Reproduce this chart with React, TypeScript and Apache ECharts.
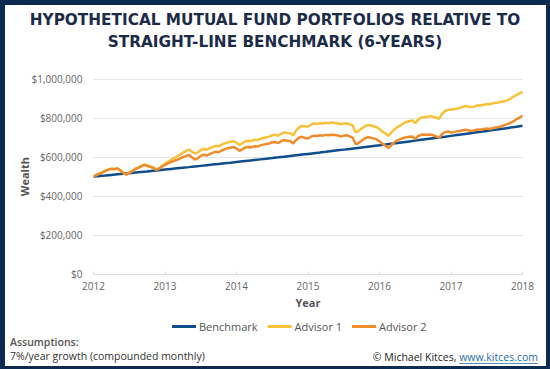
import React, { useEffect, useRef } from "react";
import * as echarts from "echarts";

// ---- data ----
const yearTicks = ["2012", "2013", "2014", "2015", "2016", "2017", "2018"];
const seriesNames = ["Benchmark", "Advisor 1", "Advisor 2"];

// Benchmark: monthly values, Jan 2012 .. Jan 2018 (7%/yr compounded monthly)
const benchmark = [
  500000, 502917, 505850, 508801, 511769, 514754, 517757, 520777, 523815, 526871, 529944, 533035,
  536145, 539272, 542418, 545582, 548765, 551966, 555186, 558424, 561682, 564958, 568254, 571569,
  574903, 578257, 581630, 585023, 588436, 591868, 595321, 598794, 602287, 605800, 609334, 612888,
  616463, 620059, 623676, 627314, 630974, 634654, 638357, 642080, 645826, 649593, 653382, 657194,
  661027, 664883, 668762, 672663, 676587, 680533, 684503, 688496, 692512, 696552, 700615, 704702,
  708813, 712948, 717107, 721290, 725498, 729730, 733986, 738268, 742575, 746906, 751263, 755646,
  760054,
];

// Advisor portfolios: half-monthly values in $ thousands, Jan 2012 .. Jan 2018
const advisor1 = [
  500, 509, 516, 523, 531, 537, 541, 539, 543, 533, 519, 511, 521, 529, 540, 547, 554, 562, 558, 552, 548, 537, 543, 555,
  565, 576, 586, 594, 603, 612, 623, 631, 639, 629, 618, 624, 636, 642, 638, 646, 652, 658, 655, 664, 670, 675, 678, 682,
  674, 662, 671, 681, 684, 682, 689, 687, 694, 698, 702, 705, 712, 714, 709, 720, 727, 724, 722, 712, 736, 752, 760, 758,
  755, 766, 772, 770, 774, 772, 776, 774, 777, 775, 773, 768, 772, 774, 768, 762, 726, 734, 746, 757, 764, 762, 758, 754,
  743, 731, 721, 709, 726, 742, 754, 762, 772, 780, 784, 788, 774, 792, 802, 806, 806, 810, 807, 802, 796, 822, 836, 842,
  843, 846, 848, 852, 858, 862, 858, 856, 860, 866, 864, 868, 872, 870, 876, 878, 880, 884, 886, 892, 900, 910, 918, 926,
  934,
];
const advisor2 = [
  500, 508, 515, 522, 530, 536, 540, 538, 542, 532, 518, 510, 520, 528, 538, 545, 552, 560, 556, 550, 546, 535, 540, 552,
  560, 568, 575, 580, 586, 592, 600, 605, 611, 600, 588, 594, 606, 612, 608, 616, 622, 628, 625, 634, 640, 645, 648, 652,
  644, 632, 640, 650, 652, 650, 656, 654, 660, 664, 667, 670, 676, 678, 672, 682, 688, 684, 682, 670, 688, 700, 704, 698,
  695, 705, 710, 708, 712, 710, 714, 712, 715, 713, 711, 706, 710, 712, 706, 700, 666, 672, 684, 695, 702, 700, 696, 692,
  680, 668, 658, 646, 662, 676, 686, 692, 698, 702, 704, 706, 694, 708, 714, 716, 714, 716, 712, 706, 700, 718, 728, 732,
  726, 728, 732, 734, 738, 740, 736, 734, 738, 742, 740, 744, 746, 744, 748, 752, 754, 758, 764, 770, 776, 784, 794, 802,
  812,
];

const yTicks = [0, 200000, 400000, 600000, 800000, 1000000];

const titleLines = [
  "HYPOTHETICAL MUTUAL FUND PORTFOLIOS RELATIVE TO",
  "STRAIGHT-LINE BENCHMARK (6-YEARS)",
];
const noteTitle = "Assumptions:";
const noteText = "7%/year growth (compounded monthly)";
const creditText = "© Michael Kitces, ";
const creditLink = "www.kitces.com";

const COLORS = ["#0f4d8c", "#f8c23a", "#ef8d2d"];
const FONT = '"Open Sans", sans-serif';
const TITLE_FONT = '"DejaVu Sans", sans-serif';

function measure(text: string, font: string): number {
  const c = document.createElement("canvas").getContext("2d");
  if (!c) return text.length * 5.5;
  c.font = font;
  return c.measureText(text).width;
}

export default function App() {
  const ref = useRef<HTMLDivElement>(null);

  useEffect(() => {
    if (!ref.current) return;
    const chart = echarts.init(ref.current, undefined, { renderer: "svg" });
    const startYear = Number(yearTicks[0]);
    const benchData = benchmark.map((v, i) => [startYear + i / 12, v]);
    const a1Data = advisor1.map((v, i) => [startYear + i / 24, v * 1000]);
    const a2Data = advisor2.map((v, i) => [startYear + i / 24, v * 1000]);

    const creditFont = `10.5px ${FONT}`;
    const linkW = measure(creditLink, creditFont);
    const rightEdge = 538;

    chart.setOption({
      animation: false,
      backgroundColor: "#ffffff",
      grid: {
        left: 93.5,
        right: 27.5,
        top: 79,
        bottom: 94.7,
        containLabel: false,
      },
      legend: {
        data: seriesNames,
        left: 167,
        top: 316,
        icon: "rect",
        itemWidth: 24,
        itemHeight: 3,
        itemGap: 10,
        textStyle: { fontFamily: FONT, fontSize: 11, color: "#555555", padding: [0, 0, 0, -2] },
      },
      xAxis: {
        type: "value",
        min: startYear,
        max: Number(yearTicks[yearTicks.length - 1]),
        interval: 1,
        name: "Year",
        nameLocation: "middle",
        nameGap: 23,
        nameMoveOverlap: false,
        nameTextStyle: { fontFamily: FONT, fontSize: 11, fontWeight: 700, color: "#555555" },
        axisLine: { lineStyle: { color: "#dddddd", width: 1 } },
        axisTick: { show: true, inside: true, length: 3, lineStyle: { color: "#dddddd" } },
        axisLabel: {
          fontFamily: FONT,
          fontSize: 10,
          color: "#666666",
          margin: 7,
          formatter: (v: number) => yearTicks[Math.round(v - startYear)] ?? "",
        },
        splitLine: { show: false },
      },
      yAxis: {
        type: "value",
        min: yTicks[0],
        max: yTicks[yTicks.length - 1],
        interval: yTicks[1] - yTicks[0],
        name: "Wealth",
        nameLocation: "middle",
        nameGap: 64,
        nameMoveOverlap: false,
        nameTextStyle: { fontFamily: FONT, fontSize: 11, fontWeight: 700, color: "#555555" },
        axisLine: { show: false },
        axisTick: { show: false },
        axisLabel: {
          fontFamily: FONT,
          fontSize: 10,
          color: "#666666",
          margin: 11,
          formatter: (v: number) => "$" + v.toLocaleString("en-US"),
        },
        splitLine: { lineStyle: { color: "#e6e6e6", width: 1 } },
      },
      series: [
        {
          name: seriesNames[0],
          type: "line",
          data: benchData,
          showSymbol: false,
          symbol: "none",
          lineStyle: { color: COLORS[0], width: 2.5 },
          itemStyle: { color: COLORS[0] },
        },
        {
          name: seriesNames[1],
          type: "line",
          data: a1Data,
          showSymbol: false,
          symbol: "none",
          lineStyle: { color: COLORS[1], width: 2.5 },
          itemStyle: { color: COLORS[1] },
        },
        {
          name: seriesNames[2],
          type: "line",
          data: a2Data,
          showSymbol: false,
          symbol: "none",
          lineStyle: { color: COLORS[2], width: 2.5 },
          itemStyle: { color: COLORS[2] },
        },
      ],
      graphic: [
        {
          type: "text",
          x: 275,
          y: 20,
          style: {
            text: titleLines[0],
            font: `bold 15.3px ${TITLE_FONT}`,
            fill: "#1c2c48",
            align: "center",
            verticalAlign: "middle",
          },
        },
        {
          type: "text",
          x: 275,
          y: 42,
          style: {
            text: titleLines[1],
            font: `bold 15.3px ${TITLE_FONT}`,
            fill: "#1c2c48",
            align: "center",
            verticalAlign: "middle",
          },
        },
        {
          type: "text",
          left: 10,
          top: 336,
          style: { text: noteTitle, font: `600 10.5px ${FONT}`, fill: "#555555" },
        },
        {
          type: "text",
          left: 10,
          top: 350,
          style: { text: noteText, font: `10.5px ${FONT}`, fill: "#333333" },
        },
        {
          type: "text",
          x: rightEdge - linkW,
          y: 357,
          style: {
            text: creditText,
            font: creditFont,
            fill: "#222222",
            align: "right",
            verticalAlign: "middle",
          },
        },
        {
          type: "text",
          x: rightEdge,
          y: 357,
          style: {
            text: creditLink,
            font: creditFont,
            fill: "#2d6db5",
            align: "right",
            verticalAlign: "middle",
          },
        },
        {
          type: "rect",
          shape: { x: rightEdge - linkW, y: 363, width: linkW, height: 0.8 },
          style: { fill: "#2d6db5" },
        },
      ],
    });
    return () => chart.dispose();
  }, []);

  return (
    <div style={{ position: "fixed", left: 0, top: 0, width: 550, height: 369, background: "#fff" }}>
      <div ref={ref} style={{ position: "absolute", left: 0, top: 0, width: 550, height: 369 }} />
      <div
        style={{
          position: "absolute",
          left: 0,
          top: 0,
          width: 550,
          height: 369,
          boxSizing: "border-box",
          borderStyle: "solid",
          borderColor: "#0b2b50",
          borderWidth: "5px 4px 3px 5px",
          pointerEvents: "none",
        }}
      />
    </div>
  );
}
